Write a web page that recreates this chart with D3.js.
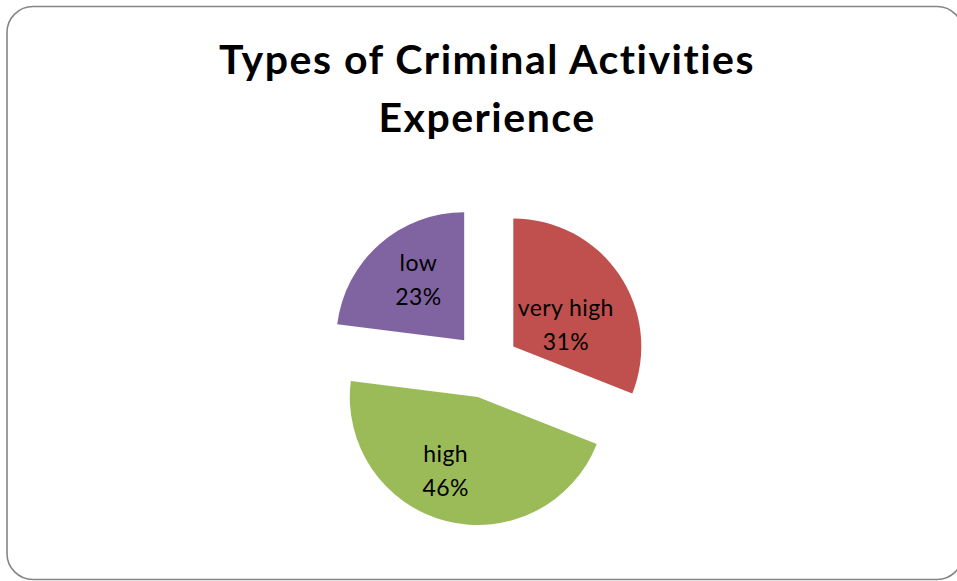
<!DOCTYPE html>
<html>
<head>
<meta charset="utf-8">
<script src="https://cdn.jsdelivr.net/npm/d3@7"></script>
<style>
  body { margin: 0; background: #fff; }
  svg { display: block; }
</style>
</head>
<body>
<svg></svg>
<script>
let width = 957;
let height = 581;

const categories = ["very high", "high", "low"];
const percents = [31, 46, 23];
const colors = ["#C0504D", "#9BBB59", "#8064A2"];
const titleLines = ["Types of Criminal Activities", "Experience"];

let radius = 128;
let explode = 33;
let center = {x: 486, y: 365};
// small label tweaks, Excel doesn't put labels exactly on the centroid
let labelNudge = {"very high": [-11, 21], "high": [-13, -1], "low": [5, -4]};

const svg = d3.select("svg")
    .attr("width", width)
    .attr("height", height)
    .attr("viewBox", [0, 0, width, height]);

// chart frame
svg.append("rect")
    .attr("x", 7)
    .attr("y", 6.5)
    .attr("width", 956)
    .attr("height", 573)
    .attr("rx", 26)
    .attr("fill", "#fff")
    .attr("stroke", "#858585")
    .attr("stroke-width", 1.6);

svg.append("g")
    .selectAll("text")
    .data(titleLines)
    .join("text")
    .attr("x", 487)
    .attr("y", (d, i) => 74 + i * 58)
    .attr("text-anchor", "middle")
    .attr("font-family", "Lato, 'Open Sans', sans-serif")
    .attr("font-weight", "bold")
    .attr("font-size", 41)
    .attr("letter-spacing", 1.5)
    .attr("fill", "#000")
    .text(d => d);

const data = categories.map((name, i) => ({name, value: percents[i], color: colors[i]}));

const pie = d3.pie()
    .value(d => d.value)
    .sort(null);

const arc = d3.arc()
    .innerRadius(0)
    .outerRadius(radius);

const labelArc = d3.arc()
    .innerRadius(radius * 0.6)
    .outerRadius(radius * 0.6);

const arcs = pie(data);

// offset each slice out along its middle angle
const shift = d => {
    const a = (d.startAngle + d.endAngle) / 2;
    return [Math.sin(a) * explode, -Math.cos(a) * explode];
};

const slices = svg.append("g")
    .attr("transform", `translate(${center.x},${center.y})`)
    .selectAll("g")
    .data(arcs)
    .join("g")
    .attr("transform", d => `translate(${shift(d)})`);

slices.append("path")
    .attr("d", arc)
    .attr("fill", d => d.data.color);

const labels = slices.append("text")
    .attr("transform", d => {
        const [cx, cy] = labelArc.centroid(d);
        const [nx, ny] = labelNudge[d.data.name] || [0, 0];
        return `translate(${cx + nx},${cy + ny})`;
    })
    .attr("text-anchor", "middle")
    .attr("font-family", "Lato, 'Open Sans', sans-serif")
    .attr("font-size", 23)
    .attr("letter-spacing", 0.4)
    .attr("fill", "#000");

labels.append("tspan")
    .attr("x", 0)
    .attr("dy", "-0.35em")
    .text(d => d.data.name);

labels.append("tspan")
    .attr("x", 0)
    .attr("dy", "1.48em")
    .text(d => d.data.value + "%");
</script>
</body>
</html>
